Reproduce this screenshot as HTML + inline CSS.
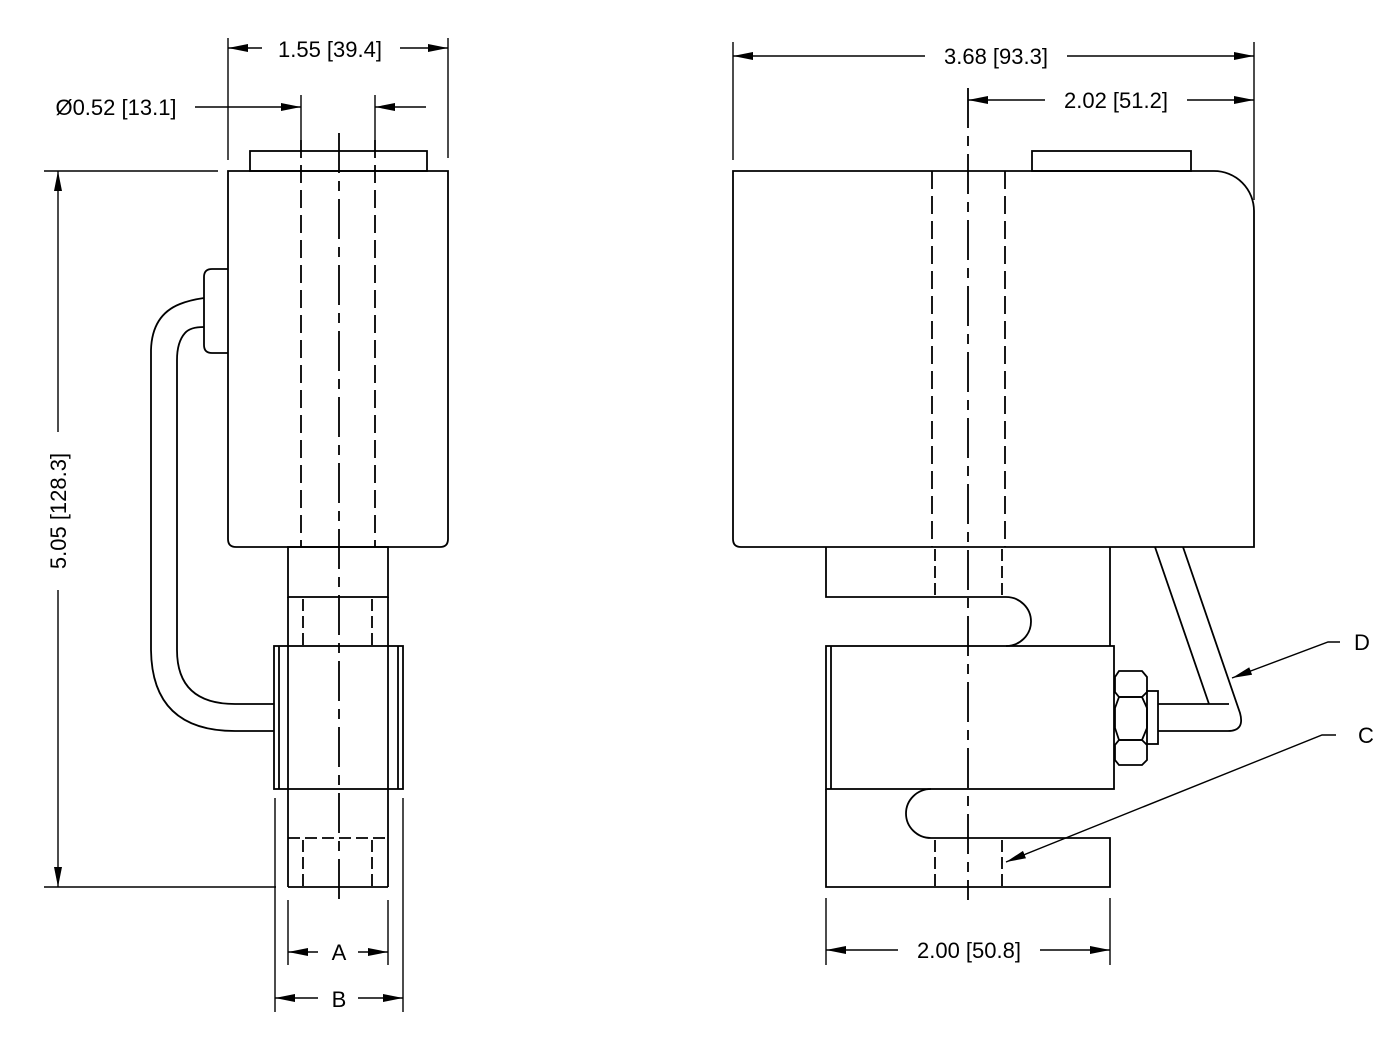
<!DOCTYPE html><html><head><style>body{margin:0;background:#fff}svg{display:block}text{font-family:"Liberation Sans",sans-serif;font-size:22px;fill:#000}</style></head><body>
<svg width="1400" height="1042" viewBox="0 0 1400 1042" xmlns="http://www.w3.org/2000/svg">
<defs><marker id="a" viewBox="0 0 20 8" refX="20" refY="4" markerWidth="20" markerHeight="8" markerUnits="userSpaceOnUse" orient="auto-start-reverse"><path d="M0,0L20,4L0,8z" fill="#000"/></marker></defs>
<g fill="none" stroke="#000" stroke-width="1.8">
<rect x="250" y="151" width="177" height="20" fill="#fff"/>
<path d="M228,171H448V539q0,8-8,8H236q-8,0-8-8z"/>
<g stroke-dasharray="18,7"><line x1="301" y1="140" x2="301" y2="547"/><line x1="375" y1="140" x2="375" y2="547"/></g>
<line x1="339" y1="133" x2="339" y2="900" stroke-dasharray="40,8,10,8"/>
<path d="M228,269H212q-8,0-8,8V345q0,8,8,8H228"/>
<path d="M204,298Q190,300 180,304Q152,315 151,350V650Q152,731 235,731H274"/>
<path d="M204,327Q190,327 185,333Q177,342 177,360V650Q177,704 235,704H274"/>
<rect x="288" y="547" width="100" height="50"/>
<line x1="288" y1="597" x2="288" y2="887"/><line x1="388" y1="597" x2="388" y2="887"/>
<g stroke-dasharray="12,5"><line x1="303" y1="599" x2="303" y2="645"/><line x1="372" y1="599" x2="372" y2="645"/><line x1="303" y1="840" x2="303" y2="887"/><line x1="372" y1="840" x2="372" y2="887"/><line x1="288" y1="838" x2="388" y2="838"/></g>
<rect x="274" y="646" width="129" height="143"/>
<line x1="279" y1="646" x2="279" y2="789"/><line x1="398" y1="646" x2="398" y2="789"/>
<line x1="288" y1="887" x2="388" y2="887"/>
<g stroke-width="1.4">
<line x1="275" y1="798" x2="275" y2="1012"/><line x1="403" y1="798" x2="403" y2="1012"/>
<line x1="288" y1="900" x2="288" y2="965"/><line x1="388" y1="900" x2="388" y2="965"/>
<line x1="44" y1="171" x2="218" y2="171"/><line x1="44" y1="887" x2="276" y2="887"/>
<line x1="228" y1="38" x2="228" y2="160"/><line x1="448" y1="38" x2="448" y2="158"/>
<line x1="301" y1="95" x2="301" y2="140"/><line x1="375" y1="95" x2="375" y2="140"/>
<line x1="288" y1="952" x2="318" y2="952" marker-start="url(#a)"/><line x1="358" y1="952" x2="388" y2="952" marker-end="url(#a)"/>
<line x1="275" y1="998" x2="318" y2="998" marker-start="url(#a)"/><line x1="358" y1="998" x2="403" y2="998" marker-end="url(#a)"/>
<line x1="58" y1="171" x2="58" y2="432" marker-start="url(#a)"/><line x1="58" y1="590" x2="58" y2="887" marker-end="url(#a)"/>
<line x1="228" y1="48" x2="262" y2="48" marker-start="url(#a)"/><line x1="400" y1="48" x2="448" y2="48" marker-end="url(#a)"/>
<line x1="195" y1="107" x2="301" y2="107" marker-end="url(#a)"/><line x1="426" y1="107" x2="375" y2="107" marker-end="url(#a)"/>
</g>
<rect x="1032" y="151" width="159" height="20" fill="#fff"/>
<path d="M733,171H1214a40,40 0 0 1 40,40V547H741q-8,0-8-8z"/>
<g stroke-dasharray="18,7"><line x1="932" y1="171" x2="932" y2="547"/><line x1="1005" y1="171" x2="1005" y2="547"/></g>
<line x1="968" y1="88" x2="968" y2="900" stroke-dasharray="40,8,10,8"/>
<path d="M826,547V597H1006a25,24.5 0 0 1 0,49"/>
<line x1="1110" y1="547" x2="1110" y2="646"/>
<rect x="826" y="646" width="288" height="143"/><line x1="831" y1="646" x2="831" y2="789"/>
<path d="M931,789a25,24.5 0 0 0 0,49H1110V887H826V789"/>
<g stroke-dasharray="12,5"><line x1="935" y1="549" x2="935" y2="597"/><line x1="1002" y1="549" x2="1002" y2="597"/><line x1="935" y1="840" x2="935" y2="887"/><line x1="1002" y1="840" x2="1002" y2="887"/></g>
<path d="M1119,671H1142L1147,677V692L1142,697H1119L1115,692V677Z"/>
<path d="M1119,697H1142L1147,708V728L1142,740H1119L1115,728V708Z"/>
<path d="M1119,740H1142L1147,745V760L1142,765H1119L1115,760V745Z"/>
<rect x="1147" y="691" width="11" height="53"/>
<path d="M1158,704H1229M1155,547L1209,704"/>
<path d="M1183,547L1240,713Q1245,731 1228,731H1158"/>
<g stroke-width="1.4">
<line x1="733" y1="42" x2="733" y2="160"/><line x1="1254" y1="42" x2="1254" y2="200"/>
<line x1="733" y1="56" x2="925" y2="56" marker-start="url(#a)"/><line x1="1067" y1="56" x2="1254" y2="56" marker-end="url(#a)"/>
<line x1="968" y1="100" x2="1045" y2="100" marker-start="url(#a)"/><line x1="1187" y1="100" x2="1254" y2="100" marker-end="url(#a)"/>
<line x1="826" y1="898" x2="826" y2="965"/><line x1="1110" y1="898" x2="1110" y2="965"/>
<line x1="826" y1="950" x2="898" y2="950" marker-start="url(#a)"/><line x1="1040" y1="950" x2="1110" y2="950" marker-end="url(#a)"/>
<path d="M1340,642H1328L1232,678" marker-end="url(#a)"/>
<path d="M1336,735H1322L1006,862" marker-end="url(#a)"/>
</g>
</g>
<text x="330" y="57" text-anchor="middle">1.55 [39.4]</text>
<text x="116" y="115" text-anchor="middle">Ø0.52 [13.1]</text>
<text x="339" y="960" text-anchor="middle">A</text>
<text x="339" y="1007" text-anchor="middle">B</text>
<text transform="translate(66,511) rotate(-90)" text-anchor="middle">5.05 [128.3]</text>
<text x="996" y="64" text-anchor="middle">3.68 [93.3]</text>
<text x="1116" y="108" text-anchor="middle">2.02 [51.2]</text>
<text x="969" y="958" text-anchor="middle">2.00 [50.8]</text>
<text x="1362" y="650" text-anchor="middle">D</text>
<text x="1366" y="743" text-anchor="middle">C</text>
</svg></body></html>
